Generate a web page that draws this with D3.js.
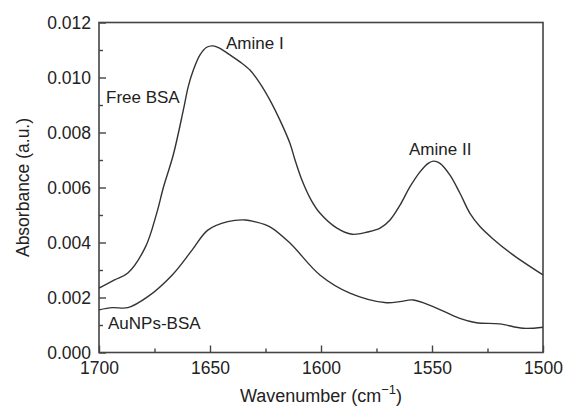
<!DOCTYPE html>
<html>
<head>
<meta charset="utf-8">
<script src="https://cdn.jsdelivr.net/npm/d3@7"></script>
<style>
  body { margin: 0; background: #fff; }
  svg text { font-family: "Liberation Sans", Arial, sans-serif; fill: #222; }
</style>
</head>
<body>
<div id="chart"></div>
<script>
// wavenumber (cm-1), absorbance
const freeWave = [1700, 1693, 1687, 1679, 1674, 1671, 1666.5, 1662, 1659.8, 1657.5, 1654.5, 1651.5, 1648.5, 1645.5, 1641, 1636.5, 1632, 1627.5, 1623, 1618.5, 1614, 1611.7, 1608.6, 1604.5, 1600.5, 1593, 1586, 1579, 1573.4, 1568.9, 1564.4, 1559.9, 1555.4, 1551.7, 1549.4, 1546.4, 1541.9, 1537.4, 1532.9, 1528.4, 1522.5, 1513.5, 1500];
const freeAbs = [0.00234, 0.00264, 0.00289, 0.00385, 0.00507, 0.00600, 0.00720, 0.00882, 0.00967, 0.01027, 0.01082, 0.01110, 0.01115, 0.01106, 0.01082, 0.01057, 0.01027, 0.00979, 0.00918, 0.00845, 0.00761, 0.00700, 0.00627, 0.00555, 0.00507, 0.00453, 0.00430, 0.00438, 0.00452, 0.00482, 0.00536, 0.00603, 0.00657, 0.00688, 0.00696, 0.00688, 0.00645, 0.00579, 0.00506, 0.00458, 0.00413, 0.00355, 0.00282];

const auWave = [1700, 1694, 1687, 1678, 1667, 1658, 1651, 1642, 1634, 1630, 1623, 1614, 1600.5, 1587, 1570.5, 1564.5, 1558.5, 1549.5, 1537.5, 1530, 1519.5, 1509, 1500];
const auAbs = [0.00155, 0.00163, 0.00163, 0.00203, 0.00282, 0.00373, 0.00445, 0.00476, 0.00482, 0.00476, 0.00457, 0.00398, 0.00282, 0.00216, 0.00181, 0.00185, 0.00191, 0.00167, 0.00124, 0.00108, 0.00104, 0.00088, 0.00092];

const xMajor = [1700, 1650, 1600, 1550, 1500];
const xMinor = [1675, 1625, 1575, 1525];
const yMajor = [0, 0.002, 0.004, 0.006, 0.008, 0.010, 0.012];
const yMinor = [0.001, 0.003, 0.005, 0.007, 0.009, 0.011];

const width = 566, height = 406;
const margin = {top: 22.5, right: 23, bottom: 53.5, left: 99};
const w = width - margin.left - margin.right;
const h = height - margin.top - margin.bottom;

const svg = d3.select("#chart").append("svg")
    .attr("width", width)
    .attr("height", height);

const g = svg.append("g")
    .attr("transform", `translate(${margin.left},${margin.top})`);

const x = d3.scaleLinear().domain([1700, 1500]).range([0, w]);
const y = d3.scaleLinear().domain([0, 0.012]).range([h, 0]);

// axes, ticks pointing inward
g.append("g")
    .attr("transform", `translate(0,${h})`)
    .call(d3.axisBottom(x).tickValues(xMajor).tickSize(-7).tickPadding(9).tickFormat(d3.format("d")));
g.append("g")
    .attr("transform", `translate(0,${h})`)
    .call(d3.axisBottom(x).tickValues(xMinor).tickSize(-4).tickFormat(""));

g.append("g")
    .call(d3.axisLeft(y).tickValues(yMajor).tickSize(-7).tickPadding(8).tickFormat(d3.format(".3f")));
g.append("g")
    .call(d3.axisLeft(y).tickValues(yMinor).tickSize(-4).tickFormat(""));

g.selectAll(".domain").remove();
g.selectAll(".tick line").attr("stroke", "#444").attr("stroke-width", 1.4);
g.selectAll(".tick text").style("font-size", "17.5px").attr("fill", "#222");

// frame
g.append("rect")
    .attr("x", 0).attr("y", 0)
    .attr("width", w).attr("height", h)
    .attr("fill", "none")
    .attr("stroke", "#444")
    .attr("stroke-width", 1.6);

// spectra
const line = d3.line()
    .x(d => x(d[0]))
    .y(d => y(d[1]))
    .curve(d3.curveCatmullRom.alpha(0.5));

g.append("path")
    .datum(freeWave.map((d, i) => [d, freeAbs[i]]))
    .attr("d", line)
    .attr("fill", "none")
    .attr("stroke", "#333")
    .attr("stroke-width", 1.4);

g.append("path")
    .datum(auWave.map((d, i) => [d, auAbs[i]]))
    .attr("d", line)
    .attr("fill", "none")
    .attr("stroke", "#333")
    .attr("stroke-width", 1.4);

// labels
svg.append("text")
    .attr("x", 24)
    .attr("y", margin.top + h / 2)
    .attr("transform", `rotate(-90, 24, ${margin.top + h / 2})`)
    .attr("text-anchor", "middle")
    .attr("dominant-baseline", "middle")
    .style("font-size", "17.5px")
    .text("Absorbance (a.u.)");

const xt = svg.append("text")
    .attr("x", margin.left + w / 2)
    .attr("y", 402)
    .attr("text-anchor", "middle")
    .style("font-size", "18px");
xt.append("tspan").text("Wavenumber (cm");
xt.append("tspan").attr("dy", -8).style("font-size", "13px").text("\u22121");
xt.append("tspan").attr("dy", 8).text(")");

const notes = [
    {t: "Amine I", x: 226, y: 49},
    {t: "Amine II", x: 409, y: 155},
    {t: "Free BSA", x: 106, y: 103},
    {t: "AuNPs-BSA", x: 108, y: 329}
];
svg.selectAll(".note").data(notes).enter().append("text")
    .attr("class", "note")
    .attr("x", d => d.x)
    .attr("y", d => d.y)
    .style("font-size", "17px")
    .text(d => d.t);
</script>
</body>
</html>
